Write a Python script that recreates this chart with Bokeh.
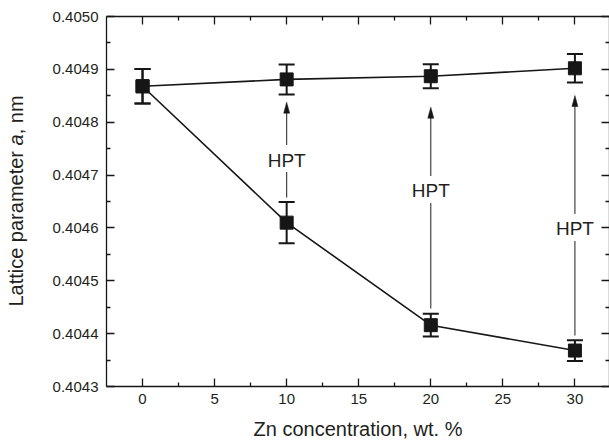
import numpy as np
from bokeh.plotting import figure
from bokeh.layouts import row
from bokeh.models import (ColumnDataSource, Whisker, TeeHead, LinearAxis, Range1d,
                          FixedTicker, PrintfTickFormatter, Div)
from bokeh.embed import file_html
from bokeh.resources import INLINE
from bokeh.core.properties import value

# ---- data ----
zn = [0, 10, 20, 30]
a_initial = [0.404868, 0.404610, 0.404416, 0.404368]
err_initial = [0.0000325, 0.0000390, 0.0000215, 0.0000196]
a_hpt = [0.404868, 0.404881, 0.404887, 0.404902]
err_hpt = [0.0000325, 0.0000284, 0.0000227, 0.0000269]

arrow_x = [10, 20, 30]
arrow_from = [0.4046576, 0.4044476, 0.4043965]
arrow_to = [0.4048379, 0.4048284, 0.4048505]
hpt_y = [0.4047285, 0.4046699, 0.4045980]
hpt_text = ["HPT", "HPT", "HPT"]

x_ticks = [0, 5, 10, 15, 20, 25, 30]
x_minor = [2.5, 7.5, 12.5, 17.5, 22.5, 27.5]
y_ticks = [0.4043, 0.4044, 0.4045, 0.4046, 0.4047, 0.4048, 0.4049, 0.4050]
y_minor = [0.40435, 0.40445, 0.40455, 0.40465, 0.40475, 0.40485, 0.40495]

x_label = "Zn concentration, wt. %"
y_label_parts = ["Lattice parameter ", "a", ", nm"]

FONT = "Liberation Sans"
TXT = "#231f20"
INK = "#161616"

XR = (-2.5, 32.4)
YR = (0.4043, 0.4050)

LABEL_W = 36
fig = figure(width=609 - LABEL_W, height=443, x_range=Range1d(*XR), y_range=Range1d(*YR),
             output_backend="svg", toolbar_location=None,
             x_axis_location=None, y_axis_location=None,
             min_border_left=106 - LABEL_W, min_border_right=0, min_border_top=16,
             min_border_bottom=57, outline_line_color=None, margin=0)
fig.xgrid.visible = False
fig.ygrid.visible = False

frame_w = 609 - 106
frame_h = 443 - 16 - 57
px_per_x = frame_w / (XR[1] - XR[0])
px_per_y = frame_h / (YR[1] - YR[0])


def style_axis(ax, show_labels):
    ax.axis_line_color = INK
    ax.axis_line_width = 1.3
    ax.major_tick_line_color = INK
    ax.minor_tick_line_color = INK
    ax.major_tick_line_width = 1.3
    ax.minor_tick_line_width = 1.3
    ax.major_tick_in = 8
    ax.major_tick_out = 0
    ax.minor_tick_in = 4
    ax.minor_tick_out = 0
    if show_labels:
        ax.major_label_text_font = FONT
        ax.major_label_text_font_size = "15px"
        ax.major_label_text_color = TXT
    else:
        ax.major_label_text_font_size = "0px"
        ax.major_label_text_color = None
        ax.major_label_standoff = 0


xt = FixedTicker(ticks=x_ticks, minor_ticks=x_minor)
yt = FixedTicker(ticks=y_ticks, minor_ticks=y_minor)

xb = LinearAxis(ticker=xt)
style_axis(xb, True)
xb.major_label_standoff = 7
xb.axis_label = x_label
xb.axis_label_text_font = FONT
xb.axis_label_text_font_size = "20px"
xb.axis_label_text_font_style = "normal"
xb.axis_label_text_color = TXT
xb.axis_label_standoff = 11
fig.add_layout(xb, "below")

xtop = LinearAxis(ticker=xt)
style_axis(xtop, False)
fig.add_layout(xtop, "above")

yl = LinearAxis(ticker=yt, formatter=PrintfTickFormatter(format="%.4f"))
style_axis(yl, True)
yl.major_label_standoff = 8
fig.add_layout(yl, "left")

yr = LinearAxis(ticker=yt)
style_axis(yr, False)
fig.add_layout(yr, "right")

# error bars
for a, e in ((a_initial, err_initial), (a_hpt, err_hpt)):
    src = ColumnDataSource(dict(x=zn,
                                lower=[v - d for v, d in zip(a, e)],
                                upper=[v + d for v, d in zip(a, e)]))
    w = Whisker(source=src, base="x", lower="lower", upper="upper",
                line_color=INK, line_width=2,
                upper_head=TeeHead(size=16, line_width=2, line_color=INK),
                lower_head=TeeHead(size=16, line_width=2, line_color=INK))
    fig.add_layout(w)

# connecting lines
fig.line(zn, a_initial, line_color=INK, line_width=1.6)
fig.line(zn, a_hpt, line_color=INK, line_width=1.6)

# markers
fig.scatter(zn, a_initial, marker="square", size=13, fill_color=INK, line_color=INK)
fig.scatter(zn, a_hpt, marker="square", size=13, fill_color=INK, line_color=INK)

# HPT arrows
gap_below = 12 / px_per_y
gap_above = 15 / px_per_y
head_len = 11 / px_per_y
head_hw = 3 / px_per_x
ARW = "#333333"
fig.segment(x0=arrow_x, y0=arrow_from, x1=arrow_x,
            y1=[h - gap_below for h in hpt_y], line_color=ARW, line_width=1.1)
fig.segment(x0=arrow_x, y0=[h + gap_above for h in hpt_y], x1=arrow_x,
            y1=[t - head_len * 0.8 for t in arrow_to], line_color=ARW, line_width=1.1)
fig.patches(xs=[[x - head_hw, x, x + head_hw] for x in arrow_x],
            ys=[[t - head_len, t, t - head_len] for t in arrow_to],
            fill_color=INK, line_color=INK, line_width=0.5)

fig.text(x=arrow_x, y=hpt_y, text=hpt_text, text_font=value(FONT),
         text_font_size="19px", text_align="center", text_baseline="middle",
         text_color=TXT)

# y axis label (rotated HTML text with italic "a")
ylab_html = (
    '<div style="position:absolute; left:16px; top:201px; '
    'transform: translate(-50%, -50%) rotate(-90deg); white-space: nowrap; '
    f'font-family: \'{FONT}\'; font-size: 20px; color: {TXT}; line-height: 1;">'
    f'{y_label_parts[0]}<i>{y_label_parts[1]}</i>{y_label_parts[2]}</div>'
)
ylab = Div(text=ylab_html, width=LABEL_W, height=443, margin=0,
           styles={"position": "relative", "overflow": "visible"})

p = row(ylab, fig, spacing=0, margin=0)

open("out.html", "w").write(file_html(p, INLINE))
